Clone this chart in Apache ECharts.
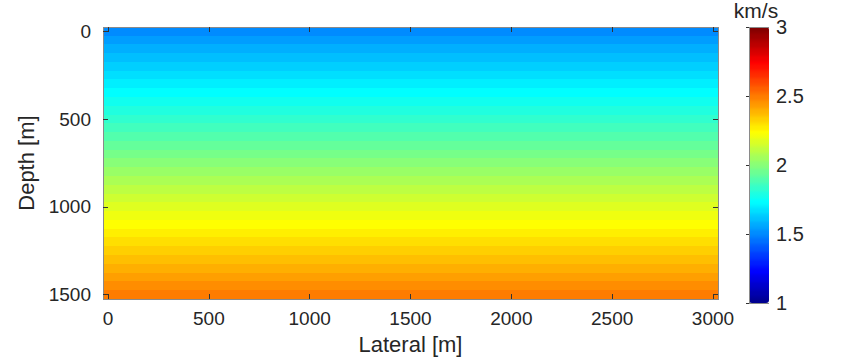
<!DOCTYPE html>
<html>
<head>
<meta charset="utf-8">
<script src="https://cdn.jsdelivr.net/npm/echarts@6/dist/echarts.min.js"></script>
<style>html,body{margin:0;padding:0;background:#fff}#c{width:864px;height:360px}#c path{shape-rendering:crispEdges}</style>
</head>
<body>
<div id="c"></div>
<script>
// Lateral positions (m)
const lateral = [0,50,100,150,200,250,300,350,400,450,500,550,600,650,700,750,800,850,900,950,
  1000,1050,1100,1150,1200,1250,1300,1350,1400,1450,1500,1550,1600,1650,1700,1750,1800,1850,1900,1950,
  2000,2050,2100,2150,2200,2250,2300,2350,2400,2450,2500,2550,2600,2650,2700,2750,2800,2850,2900,2950,3000];
// Depth positions (m)
const depth = [0,50,100,150,200,250,300,350,400,450,500,550,600,650,700,750,800,850,900,950,
  1000,1050,1100,1150,1200,1250,1300,1350,1400,1450,1500];
// Velocity (km/s) per depth row (laterally constant)
const velocity = [1.500,1.533,1.567,1.600,1.633,1.667,1.700,1.733,1.767,1.800,1.833,1.867,1.900,1.933,1.967,
  2.000,2.033,2.067,2.100,2.133,2.167,2.200,2.233,2.267,2.300,2.333,2.367,2.400,2.433,2.467,2.500];
// Tick labels
const xTicks = [0,500,1000,1500,2000,2500,3000];
const yTicks = [0,500,1000,1500];
const cbTicks = [1,1.5,2,2.5,3];
const cbMin = 1, cbMax = 3;

// jet(64) colormap (MATLAB/Octave style)
function jet(m){
  const n = Math.ceil(m/4);
  const u = [];
  for(let k=1;k<=n;k++) u.push(k/n);
  for(let k=1;k<n;k++) u.push(1);
  for(let k=n;k>=1;k--) u.push(k/n);
  const gOff = Math.ceil(n/2) - (m%4===1?1:0);
  const R = new Array(m).fill(0), G = new Array(m).fill(0), B = new Array(m).fill(0);
  for(let k=0;k<u.length;k++){
    const g = gOff + k + 1, r = g + n, b = g - n;
    if(g>=1 && g<=m) G[g-1]=u[k];
    if(r>=1 && r<=m) R[r-1]=u[k];
    if(b>=1 && b<=m) B[b-1]=u[k];
  }
  const out=[];
  for(let i=0;i<m;i++){
    const h = v => Math.round(v*255).toString(16).padStart(2,'0');
    out.push('#'+h(R[i])+h(G[i])+h(B[i]));
  }
  return out;
}
const jetColors = jet(64);
const steppedColors = [];
jetColors.forEach(c => { steppedColors.push(c); steppedColors.push(c); });

const data = [];
for(let i=0;i<lateral.length;i++){
  for(let j=0;j<depth.length;j++){
    data.push([i, j, velocity[j]]);
  }
}

const FONT = 'Liberation Sans, Arial, Helvetica, sans-serif';
const TXT = '#262626';
const LINE = '#8a8a8a';
const TICK = '#333333';
const xShow = (idx, val) => xTicks.indexOf(Number(val)) >= 0;
const yShow = (idx, val) => yTicks.indexOf(Number(val)) >= 0;

const chart = echarts.init(document.getElementById('c'), null, {renderer:'svg'});
chart.setOption({
  animation: false,
  backgroundColor: '#ffffff',
  title: {
    text: 'km/s', left: 756, top: 0, textAlign: 'center', padding: 0,
    textStyle: {fontFamily: FONT, fontSize: 21, fontWeight: 'normal', color: TXT}
  },
  grid: [
    {left: 103, top: 27, width: 615, height: 276},
    {left: 749, top: 27, width: 20, height: 276}
  ],
  xAxis: [
    {
      gridIndex: 0, type: 'category', data: lateral.map(String), position: 'bottom', z: 10,
      axisLine: {show: true, lineStyle: {color: LINE, width: 1}},
      axisTick: {show: true, inside: true, length: 5, alignWithLabel: true, interval: xShow, lineStyle: {color: TICK}},
      axisLabel: {interval: xShow, fontFamily: FONT, fontSize: 19, color: TXT, margin: 10},
      splitLine: {show: false},
      name: 'Lateral [m]', nameLocation: 'middle', nameGap: 32,
      nameTextStyle: {fontFamily: FONT, fontSize: 22, color: TXT}
    },
    {
      gridIndex: 0, type: 'category', data: lateral.map(String), position: 'top', z: 10,
      axisLine: {show: true, lineStyle: {color: LINE, width: 1}},
      axisTick: {show: true, inside: true, length: 5, alignWithLabel: true, interval: xShow, lineStyle: {color: TICK}},
      axisLabel: {show: false}, splitLine: {show: false}
    },
    {
      gridIndex: 1, type: 'value', min: 0, max: 1, position: 'bottom', z: 10,
      axisLine: {show: true, lineStyle: {color: LINE}}, axisTick: {show: false},
      axisLabel: {show: false}, splitLine: {show: false}
    },
    {
      gridIndex: 1, type: 'value', min: 0, max: 1, position: 'top', z: 10,
      axisLine: {show: true, lineStyle: {color: LINE}}, axisTick: {show: false},
      axisLabel: {show: false}, splitLine: {show: false}
    }
  ],
  yAxis: [
    {
      gridIndex: 0, type: 'category', data: depth.map(String), inverse: true, position: 'left', z: 10,
      axisLine: {show: true, lineStyle: {color: LINE, width: 1}},
      axisTick: {show: true, inside: true, length: 5, alignWithLabel: true, interval: yShow, lineStyle: {color: TICK}},
      axisLabel: {interval: yShow, fontFamily: FONT, fontSize: 19, color: TXT, margin: 12},
      splitLine: {show: false},
      name: 'Depth [m]', nameLocation: 'middle', nameGap: 60, nameRotate: 90,
      nameTextStyle: {fontFamily: FONT, fontSize: 22, color: TXT}
    },
    {
      gridIndex: 0, type: 'category', data: depth.map(String), inverse: true, position: 'right', z: 10,
      axisLine: {show: true, lineStyle: {color: LINE, width: 1}},
      axisTick: {show: true, inside: true, length: 5, alignWithLabel: true, interval: yShow, lineStyle: {color: TICK}},
      axisLabel: {show: false}, splitLine: {show: false}
    },
    {
      gridIndex: 1, type: 'value', min: cbMin, max: cbMax, interval: 0.5, position: 'right', z: 10,
      axisLine: {show: true, lineStyle: {color: LINE}},
      axisTick: {show: true, inside: true, length: 3, lineStyle: {color: TICK}},
      axisLabel: {fontFamily: FONT, fontSize: 20, color: TXT, margin: 7,
        formatter: v => cbTicks.indexOf(v) >= 0 ? String(v) : ''},
      splitLine: {show: false}
    },
    {
      gridIndex: 1, type: 'value', min: cbMin, max: cbMax, position: 'left', z: 10,
      axisLine: {show: true, lineStyle: {color: LINE}}, axisTick: {show: false},
      axisLabel: {show: false}, splitLine: {show: false}
    }
  ],
  visualMap: {
    type: 'continuous', min: cbMin, max: cbMax, seriesIndex: 0,
    orient: 'vertical', left: 749, top: 27, padding: 0,
    itemWidth: 20, itemHeight: 276, calculable: false, hoverLink: false, realtime: false,
    text: null, showLabel: false,
    inRange: {color: steppedColors}
  },
  series: [{
    type: 'heatmap', xAxisIndex: 0, yAxisIndex: 0, data: data,
    progressive: 0, emphasis: {disabled: true}
  }]
});
</script>
</body>
</html>
